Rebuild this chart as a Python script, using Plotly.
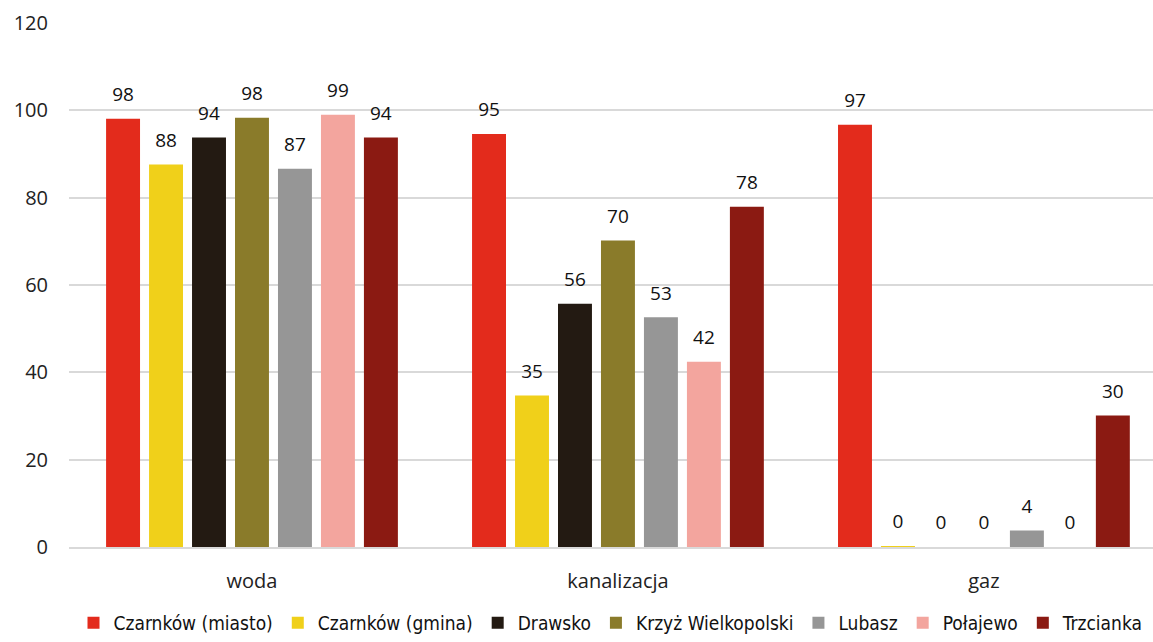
import plotly.graph_objects as go

categories = ["woda", "kanalizacja", "gaz"]
series_names = ["Czarnków (miasto)", "Czarnków (gmina)", "Drawsko", "Krzyż Wielkopolski",
                "Lubasz", "Połajewo", "Trzcianka"]
czarnkow_miasto = [98.1, 94.6, 96.7]
czarnkow_gmina = [87.6, 34.7, 0.2]
drawsko = [93.8, 55.7, 0.0]
krzyz = [98.3, 70.2, 0.0]
lubasz = [86.6, 52.6, 3.8]
polajewo = [99.0, 42.4, 0.0]
trzcianka = [93.8, 77.9, 30.1]
series_values = [czarnkow_miasto, czarnkow_gmina, drawsko, krzyz, lubasz, polajewo, trzcianka]
colors = ["#E32B1C", "#F0D01A", "#231A12", "#8A7B2A", "#969696", "#F3A59E", "#8B1A12"]
y_ticks = [0, 20, 40, 60, 80, 100, 120]

fig = go.Figure()
for name, vals, col in zip(series_names, series_values, colors):
    fig.add_trace(go.Bar(
        name=name, x=categories, y=vals, marker_color=col,
        marker_line_width=0,
        texttemplate="<span style='font-size:19px'>%{y:.0f}</span><br>&nbsp;",
        textposition="outside", constraintext="none",
        textfont=dict(size=9, color="#111111", family="Open Sans"),
        cliponaxis=False,
    ))

fig.update_layout(
    width=1153, height=642,
    barmode="group", bargap=0.178, bargroupgap=0.21,
    plot_bgcolor="white", paper_bgcolor="white",
    margin=dict(l=69, r=0, t=23, b=95),
    font=dict(family="Open Sans", size=18, color="#222"),
    showlegend=True,
    legend=dict(orientation="h", x=0.5, xanchor="center", y=-0.182, yanchor="bottom",
                font=dict(size=19, family="DejaVu Sans Condensed, Open Sans", color="#111"),
                itemwidth=30, tracegroupgap=0, traceorder="normal"),
    xaxis=dict(range=[-0.5, 2.462], showline=True, linecolor="#D9D9D9", linewidth=1.5,
               ticks="", ticklabelstandoff=15,
               tickfont=dict(size=20, family="Open Sans", color="#222")),
    yaxis=dict(range=[0, 120], tickvals=y_ticks, showgrid=True, gridcolor="#D9D9D9",
               gridwidth=1.5, zeroline=False, ticks="", ticklabelstandoff=20,
               automargin=False,
               tickfont=dict(size=20, family="Open Sans", color="#222")),
)

fig.write_html("out.html", config={"displayModeBar": False},
               post_script="document.body.style.margin='0';")
